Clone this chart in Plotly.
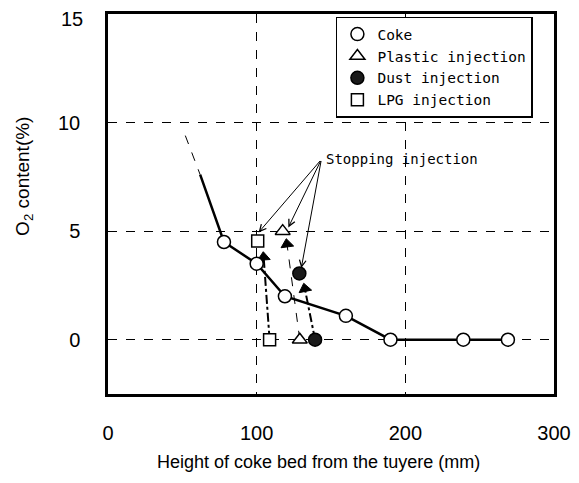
import plotly.graph_objects as go

# ---- data ----
coke_x = [78, 100, 119, 160, 190, 239, 269]
coke_y = [4.5, 3.5, 2.0, 1.1, 0.0, 0.0, 0.0]
coke_line_x = [62, 78, 100, 119, 160, 190, 239, 269]
coke_line_y = [7.6, 4.5, 3.5, 2.0, 1.1, 0.0, 0.0, 0.0]
trend_x = [52, 62]
trend_y = [9.4, 7.6]

plastic_x = [117.5, 129]
plastic_y = [5.0, 0.0]
dust_x = [128.7, 139.3]
dust_y = [3.05, 0.0]
lpg_x = [100.7, 108.7]
lpg_y = [4.55, 0.0]

# recovery after stopping injection (from zero point up to arrow head)
plastic_rec_x = [129, 120.4]
plastic_rec_y = [0.0, 4.4]
dust_rec_x = [139.3, 132.4]
dust_rec_y = [0.0, 2.35]
lpg_rec_x = [108.7, 104.7]
lpg_rec_y = [0.0, 3.8]

# "Stopping injection" label and arrow targets
label_x, label_y = 143.5, 8.3
arrow_tx = [101.3, 121.3, 130.0]
arrow_ty = [4.94, 5.17, 3.3]

x_ticks = [0, 100, 200, 300]
y_ticks = [0, 5, 10, 15]

fig = go.Figure()

# lines
fig.add_trace(go.Scatter(x=trend_x, y=trend_y, mode="lines",
                         line=dict(color="black", width=1, dash="dash"),
                         showlegend=False, hoverinfo="skip"))
fig.add_trace(go.Scatter(x=coke_line_x, y=coke_line_y, mode="lines",
                         line=dict(color="black", width=2.5),
                         showlegend=False, hoverinfo="skip"))

def rec(xs, ys, dash, width):
    fig.add_trace(go.Scatter(
        x=xs, y=ys, mode="lines+markers",
        line=dict(color="black", width=width, dash=dash),
        marker=dict(symbol="triangle-up", size=[0, 11], color="black", opacity=1,
                    angleref="previous", line=dict(width=1, color="black")),
        showlegend=False, hoverinfo="skip"))

rec(lpg_rec_x, lpg_rec_y, "dashdot", 2)
rec(plastic_rec_x, plastic_rec_y, "dash", 1)
rec(dust_rec_x, dust_rec_y, "dashdot", 2)

# markers (legend)
mk_line = dict(color="black", width=1.5)
fig.add_trace(go.Scatter(x=coke_x, y=coke_y, mode="markers", name="Coke",
                         marker=dict(symbol="circle", size=13, color="white", line=mk_line)))
fig.add_trace(go.Scatter(x=plastic_x, y=plastic_y, mode="markers", name="Plastic injection",
                         marker=dict(symbol="triangle-up", size=13, color="white", line=mk_line)))
fig.add_trace(go.Scatter(x=dust_x, y=dust_y, mode="markers", name="Dust injection",
                         marker=dict(symbol="circle", size=13, color="#1a1a1a", line=mk_line)))
fig.add_trace(go.Scatter(x=lpg_x, y=lpg_y, mode="markers", name="LPG injection",
                         marker=dict(symbol="square", size=12, color="white", line=mk_line)))

mono = "DejaVu Sans Mono"
tickfont = dict(family="Liberation Sans", size=20, color="black")
annotations = [
    dict(x=label_x + 1.5, y=label_y, xref="x", yref="y", text="Stopping injection",
         showarrow=False, xanchor="left", yanchor="middle",
         font=dict(family=mono, size=14, color="black")),
    dict(xref="paper", yref="paper", x=0.471, y=-0.18, text="Height of coke bed from the tuyere (mm)",
         showarrow=False, xanchor="center", yanchor="middle",
         font=dict(family="Liberation Sans", size=18, color="black")),
    dict(xref="paper", yref="paper", x=-0.19, y=0.572, text="O<sub>2</sub> content(%)",
         textangle=-90, showarrow=False, xanchor="center", yanchor="middle",
         font=dict(family="Liberation Sans", size=19, color="black")),
    # top y tick label, nudged down so it stays inside the figure
    dict(xref="paper", yref="y", x=-0.052, y=y_ticks[-1], yshift=-5, text=str(y_ticks[-1]),
         showarrow=False, xanchor="right", yanchor="middle", font=tickfont),
]
for tx, ty in zip(arrow_tx, arrow_ty):
    annotations.append(dict(x=tx, y=ty, ax=label_x, ay=label_y, xref="x", yref="y",
                            axref="x", ayref="y", text="", showarrow=True,
                            arrowhead=5, arrowsize=1.3, arrowwidth=1, arrowcolor="black"))

fig.update_layout(
    width=579, height=483,
    margin=dict(l=100, r=33, t=6, b=97, autoexpand=False),
    paper_bgcolor="white", plot_bgcolor="white",
    annotations=annotations,
    legend=dict(x=0.511, y=0.993, xanchor="left", yanchor="top",
                bgcolor="white", bordercolor="black", borderwidth=1.5,
                font=dict(family=mono, size=14.5, color="black"),
                tracegroupgap=2),
    showlegend=True,
)
fig.update_xaxes(range=[0, 300], tickvals=x_ticks, showgrid=True, automargin=False,
                 gridcolor="black", griddash="dash", gridwidth=1,
                 zeroline=False, showline=True, linecolor="black", linewidth=2.5, mirror=True,
                 ticks="", ticklabelstandoff=19, ticklabeloverflow="allow",
                 tickfont=tickfont)
fig.update_yaxes(range=[-2.5, 15], tickvals=y_ticks,
                 ticktext=[str(v) for v in y_ticks[:-1]] + [""],
                 showgrid=True, automargin=False,
                 gridcolor="black", griddash="dash", gridwidth=1,
                 zeroline=False, showline=True, linecolor="black", linewidth=2.5, mirror=True,
                 ticks="", ticklabelstandoff=21, ticklabeloverflow="allow",
                 tickfont=tickfont)

fig.write_html("out.html")
